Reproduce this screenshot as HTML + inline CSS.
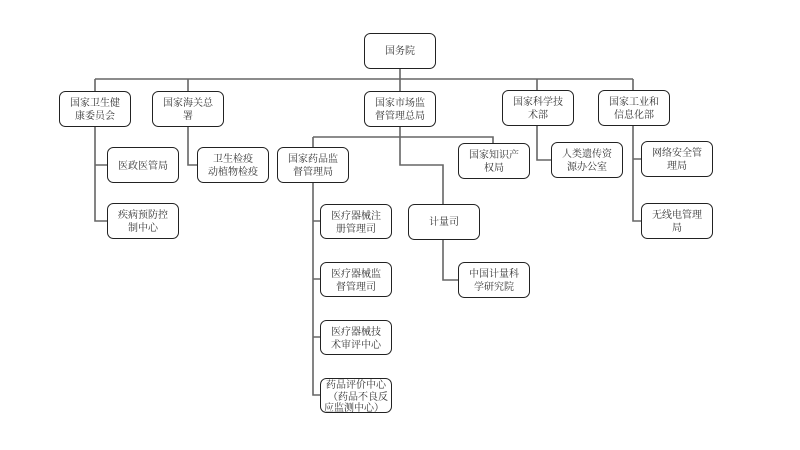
<!DOCTYPE html>
<html><head><meta charset="utf-8"><style>
html,body{margin:0;padding:0;background:#fff;}
svg{display:block;}
text{font-family:"Liberation Serif","Noto Serif CJK SC","Noto Sans CJK SC",serif;font-size:10px;fill:#333;text-anchor:middle;}
rect{fill:#fff;stroke:#222;stroke-width:1;}
path{fill:none;stroke:#666;stroke-width:1.6;}
</style></head><body>
<svg width="800" height="450" viewBox="0 0 800 450">
<path d="M400 68V79 M95 79H633 M95 79V92 M188 79V92 M400 79V92 M537 79V90 M633 79V90"/>
<path d="M95 126V221H107 M95 165H107"/>
<path d="M188 126V165H197"/>
<path d="M400 126V165H443V204 M313 137H493V143 M313 137V147"/>
<path d="M313 182V395H320 M313 221H321 M313 279H321 M313 337H321"/>
<path d="M443 239V280H458"/>
<path d="M537 125V160H551"/>
<path d="M633 125V221H641 M633 159H641"/>
<rect x="364.5" y="33.5" width="71" height="35" rx="6"/><text x="400" y="54">国务院</text>
<rect x="59.5" y="91.5" width="71" height="35" rx="6"/><text x="95" y="106">国家卫生健</text><text x="95" y="119">康委员会</text>
<rect x="152.5" y="91.5" width="71" height="35" rx="6"/><text x="188" y="106">国家海关总</text><text x="188" y="119">署</text>
<rect x="364.5" y="91.5" width="71" height="35" rx="6"/><text x="400" y="106">国家市场监</text><text x="400" y="119">督管理总局</text>
<rect x="502.5" y="90.5" width="71" height="35" rx="6"/><text x="538" y="105">国家科学技</text><text x="538" y="118">术部</text>
<rect x="598.5" y="90.5" width="71" height="35" rx="6"/><text x="634" y="105">国家工业和</text><text x="634" y="118">信息化部</text>
<rect x="107.5" y="147.5" width="71" height="35" rx="6"/><text x="143" y="169">医政医管局</text>
<rect x="107.5" y="203.5" width="71" height="35" rx="6"/><text x="143" y="218">疾病预防控</text><text x="143" y="231">制中心</text>
<rect x="197.5" y="147.5" width="71" height="35" rx="6"/><text x="233" y="162">卫生检疫</text><text x="233" y="175">动植物检疫</text>
<rect x="277.5" y="147.5" width="71" height="35" rx="6"/><text x="313" y="162">国家药品监</text><text x="313" y="175">督管理局</text>
<rect x="458.5" y="143.5" width="71" height="35" rx="6"/><text x="494" y="158">国家知识产</text><text x="494" y="171">权局</text>
<rect x="551.5" y="142.5" width="71" height="35" rx="6"/><text x="587" y="157">人类遗传资</text><text x="587" y="170">源办公室</text>
<rect x="641.5" y="141.5" width="71" height="35" rx="6"/><text x="677" y="156">网络安全管</text><text x="677" y="169">理局</text>
<rect x="641.5" y="203.5" width="71" height="35" rx="6"/><text x="677" y="218">无线电管理</text><text x="677" y="231">局</text>
<rect x="408.5" y="204.5" width="71" height="35" rx="6"/><text x="444" y="225">计量司</text>
<rect x="458.5" y="262.5" width="71" height="35" rx="6"/><text x="494" y="277">中国计量科</text><text x="494" y="290">学研究院</text>
<rect x="320.5" y="204.5" width="71" height="34" rx="6"/><text x="356" y="219">医疗器械注</text><text x="356" y="232">册管理司</text>
<rect x="320.5" y="262.5" width="71" height="34" rx="6"/><text x="356" y="277">医疗器械监</text><text x="356" y="290">督管理司</text>
<rect x="320.5" y="320.5" width="71" height="34" rx="6"/><text x="356" y="335">医疗器械技</text><text x="356" y="348">术审评中心</text>
<rect x="320.5" y="378.5" width="71" height="34" rx="6"/><text x="356" y="388">药品评价中心</text><text x="358" y="400">（药品不良反</text><text x="354" y="411">应监测中心）</text>
</svg>
</body></html>
